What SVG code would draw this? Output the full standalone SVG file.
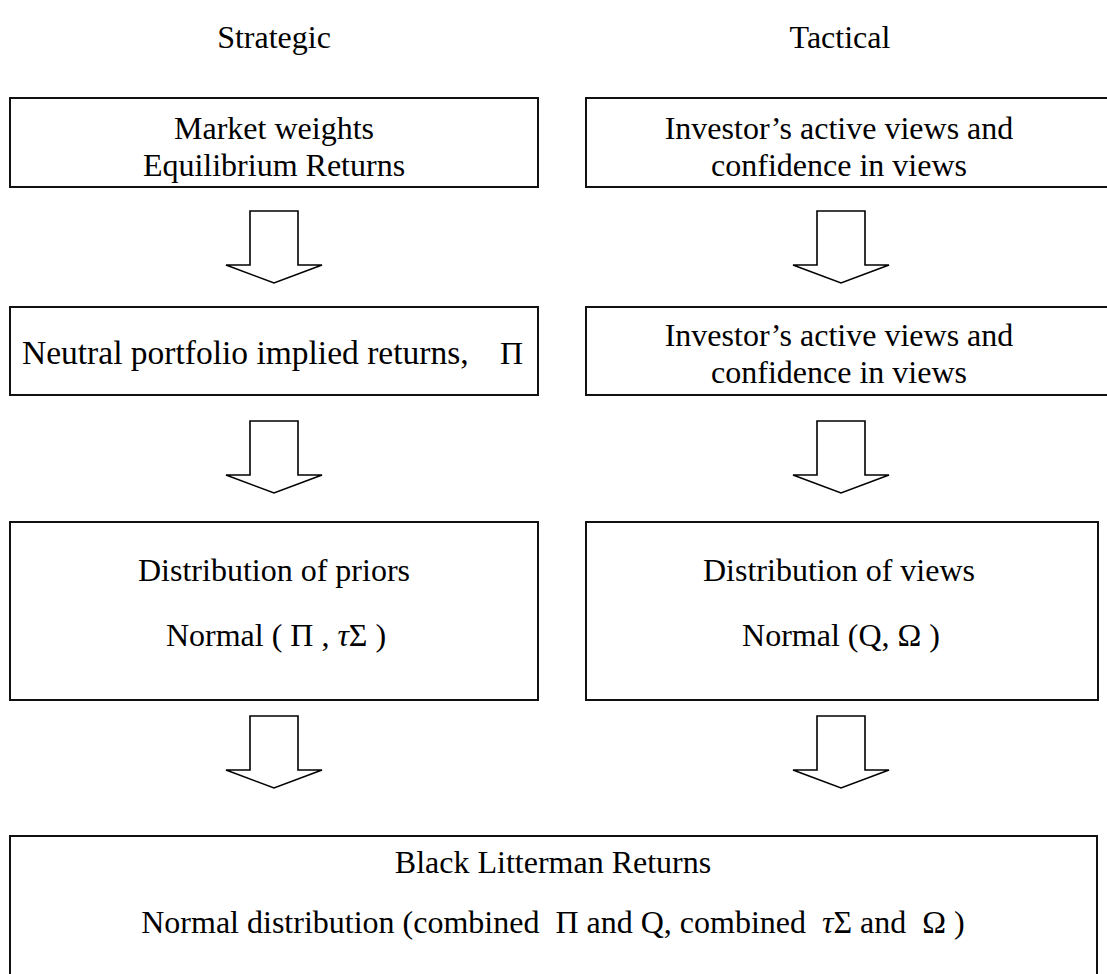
<svg xmlns="http://www.w3.org/2000/svg" width="1107" height="974" viewBox="0 0 1107 974">
<style>
text{font-family:"Liberation Serif","Times New Roman",serif;font-size:32px;fill:#000;text-anchor:middle;white-space:pre}
.box{fill:#fff;stroke:#111;stroke-width:2}
.arr{fill:#fff;stroke:#000;stroke-width:1.6;stroke-linejoin:miter}
.i{font-style:italic}
.st{text-anchor:start}
</style>
<defs>
<path id="down" class="arr" d="M-24,0 H24 V54 H48 L0,72 L-48,54 H-24 Z"/>
</defs>
<rect width="1107" height="974" fill="#fff"/>
<g id="titles">
<text x="274" y="48">Strategic</text>
<text x="840" y="48">Tactical</text>
</g>
<g id="connectors">
<use href="#down" x="274" y="211"/>
<use href="#down" x="841" y="211"/>
<use href="#down" x="274" y="421"/>
<use href="#down" x="841" y="421"/>
<use href="#down" x="274" y="716"/>
<use href="#down" x="841" y="716"/>
</g>
<g id="market">
<rect class="box" x="10" y="98" width="528" height="89"/>
<text x="274" y="139">Market weights</text>
<text x="274" y="176">Equilibrium Returns</text>
</g>
<g id="views1">
<rect class="box" x="586" y="98" width="530" height="89"/>
<text x="839" y="139">Investor’s active views and</text>
<text x="839" y="176">confidence in views</text>
</g>
<g id="neutral">
<rect class="box" x="10" y="307" width="528" height="88"/>
<text class="st" x="22" y="364" style="font-size:33.5px">Neutral portfolio implied returns,</text>
<text class="st" x="500" y="364">Π</text>
</g>
<g id="views2">
<rect class="box" x="586" y="307" width="530" height="88"/>
<text x="839" y="346">Investor’s active views and</text>
<text x="839" y="383">confidence in views</text>
</g>
<g id="priors">
<rect class="box" x="10" y="522" width="528" height="178"/>
<text x="274" y="581">Distribution of priors</text>
<text x="276" y="646" xml:space="preserve">Normal ( Π , <tspan class="i">τ</tspan>Σ )</text>
</g>
<g id="viewsdist">
<rect class="box" x="586" y="522" width="512" height="178"/>
<text x="841" y="646" xml:space="preserve">Normal (Q, Ω )</text>
<text x="839" y="581">Distribution of views</text>
</g>
<g id="bl">
<rect class="box" x="10" y="836" width="1087" height="160"/>
<text x="553" y="873">Black Litterman Returns</text>
<text x="553" y="933" xml:space="preserve">Normal distribution (combined  Π and Q, combined  <tspan class="i">τ</tspan>Σ and  Ω )</text>
</g>
</svg>
